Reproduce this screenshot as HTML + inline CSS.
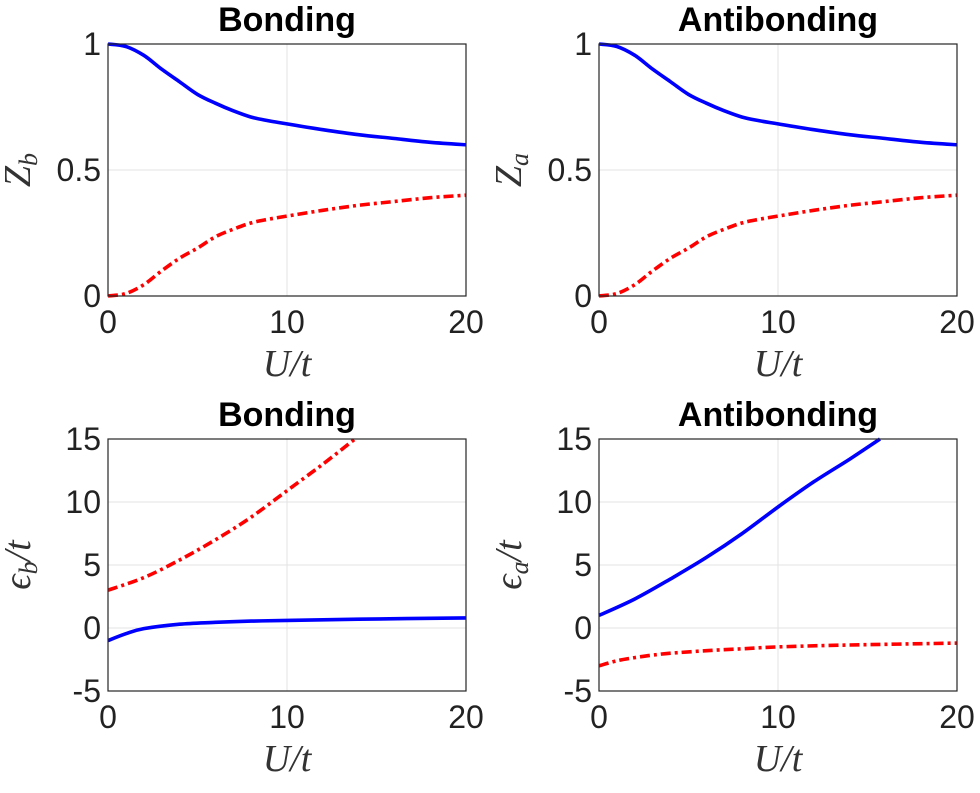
<!DOCTYPE html>
<html><head><meta charset="utf-8"><style>
body{margin:0;background:#fff;width:980px;height:788px;overflow:hidden}
svg text{font-family:"Liberation Sans",sans-serif}
.tick{font-size:32px;fill:#222}
.ttl{font-size:34px;font-weight:bold;fill:#000}
.lbl{font-family:"Liberation Serif",serif !important;font-style:italic;font-size:38px;fill:#333}
</style></head><body>
<svg id="fig" width="980" height="788"></svg>
<script>
// Top row: quasiparticle weights
const uZ = [0,1,2,3,4,5,6,7,8,9,10,12,14,16,18,20];
const zBlue = [1,0.99,0.955,0.9,0.85,0.80,0.765,0.735,0.71,0.695,0.683,0.66,0.64,0.625,0.61,0.60];
const zRed = [0,0.01,0.045,0.10,0.15,0.19,0.235,0.265,0.29,0.305,0.317,0.34,0.36,0.375,0.39,0.40];
// Bottom-left: bonding energies
const uBLred = [0,2,4,6,8,10,12,13.8];
const ebRed = [3,4,5.4,7,8.8,10.9,13,15];
const uBLblue = [0,1,2,4,6,8,10,14,20];
const ebBlue = [-1,-0.45,-0.05,0.3,0.45,0.55,0.6,0.7,0.8];
// Bottom-right: antibonding energies
const uBRblue = [0,2,4,6,8,10,12,14,15.7];
const eaBlue = [1,2.3,3.9,5.6,7.5,9.6,11.6,13.4,15];
const uBRred = [0,1,2,3,4,6,8,10,14,20];
const eaRed = [-3,-2.6,-2.35,-2.15,-2,-1.8,-1.65,-1.5,-1.35,-1.2];
const xTicks = [0,10,20];
const zTicks = [0,0.5,1];
const zTickLabels = ["0","0.5","1"];
const eTicks = [-5,0,5,10,15];
const eTickLabels = ["-5","0","5","10","15"];

const NS="http://www.w3.org/2000/svg";
const svg=document.getElementById('fig');
function mk(tag,attrs,parent){const e=document.createElementNS(NS,tag);for(const k in attrs)e.setAttribute(k,attrs[k]);(parent||svg).appendChild(e);return e;}
function smooth(P){
  let d='M'+P[0][0].toFixed(1)+','+P[0][1].toFixed(1);
  for(let i=0;i<P.length-1;i++){
    const p0=P[Math.max(0,i-1)],p1=P[i],p2=P[i+1],p3=P[Math.min(P.length-1,i+2)];
    const c1=[p1[0]+(p2[0]-p0[0])/6,p1[1]+(p2[1]-p0[1])/6];
    const c2=[p2[0]-(p3[0]-p1[0])/6,p2[1]-(p3[1]-p1[1])/6];
    d+=` C${c1[0].toFixed(1)},${c1[1].toFixed(1)} ${c2[0].toFixed(1)},${c2[1].toFixed(1)} ${p2[0].toFixed(1)},${p2[1].toFixed(1)}`;
  }
  return d;
}

function panel(name,x0,x1,y0,y1,ymin,ymax,yt,ytl,title,ylabelHtml,series){
  const g=mk('g',{});
  
  
  const sx=v=>x0+(v-0)/20*(x1-x0);
  const sy=v=>y1-(v-ymin)/(ymax-ymin)*(y1-y0);
  xTicks.forEach(t=>{const l=mk('line',{x1:sx(t),x2:sx(t),y1:y0,y2:y1,stroke:'#e3e3e3','stroke-width':1},g);
    
    });
  yt.forEach(t=>{const l=mk('line',{x1:x0,x2:x1,y1:sy(t),y2:sy(t),stroke:'#e3e3e3','stroke-width':1},g);
    
    });
  series.forEach(s=>{
    const P=s.x.map((v,i)=>[sx(v),sy(s.y[i])]);
    const p=mk('path',{d:smooth(P),fill:'none',stroke:s.color,'stroke-width':3.6,'stroke-linejoin':'round','stroke-dasharray':s.dash||'none'},g);
    
    
  });
  const r=mk('rect',{x:x0,y:y0,width:x1-x0,height:y1-y0,fill:'none',stroke:'#262626','stroke-width':1.2},g);
  
  
  xTicks.forEach(t=>{const tx=mk('text',{x:sx(t),y:y1+37,'text-anchor':'middle',class:'tick'},g);tx.textContent=String(t);
    
    });
  yt.forEach((t,i)=>{const tx=mk('text',{x:x0-7,y:sy(t)+11,'text-anchor':'end',class:'tick'},g);tx.textContent=ytl[i];
    
    });
  const tt=mk('text',{x:(x0+x1)/2,y:y0-13,'text-anchor':'middle',class:'ttl'},g);tt.textContent=title;
  
  
  const xl=mk('text',{x:(x0+x1)/2,y:y1+80,'text-anchor':'middle',class:'lbl'},g);xl.textContent='U/t';
  
  
  const yl=mk('text',{x:0,y:0,'text-anchor':'middle',class:'lbl',transform:`translate(${x0-78},${(y0+y1)/2}) rotate(-90)`},g);
  yl.innerHTML=ylabelHtml;
  
  
}
const dash='10 4 3 4';
panel('panel-bonding-z',108,466,44,296,0,1,zTicks,zTickLabels,'Bonding','Z<tspan font-size="26" dy="7">b</tspan>',
 [{x:uZ,y:zBlue,color:'#0000ff',name:'z-blue-curve'},{x:uZ,y:zRed,color:'#ff0000',dash:dash,name:'z-red-curve'}]);
panel('panel-antibonding-z',599,957,44,296,0,1,zTicks,zTickLabels,'Antibonding','Z<tspan font-size="26" dy="7">a</tspan>',
 [{x:uZ,y:zBlue,color:'#0000ff',name:'z-blue-curve'},{x:uZ,y:zRed,color:'#ff0000',dash:dash,name:'z-red-curve'}]);
panel('panel-bonding-energy',108,466,439,691,-5,15,eTicks,eTickLabels,'Bonding','ϵ<tspan font-size="26" dy="7">b</tspan><tspan dy="-7">/t</tspan>',
 [{x:uBLblue,y:ebBlue,color:'#0000ff',name:'eb-blue-curve'},{x:uBLred,y:ebRed,color:'#ff0000',dash:dash,name:'eb-red-curve'}]);
panel('panel-antibonding-energy',599,957,439,691,-5,15,eTicks,eTickLabels,'Antibonding','ϵ<tspan font-size="26" dy="7">a</tspan><tspan dy="-7">/t</tspan>',
 [{x:uBRblue,y:eaBlue,color:'#0000ff',name:'ea-blue-curve'},{x:uBRred,y:eaRed,color:'#ff0000',dash:dash,name:'ea-red-curve'}]);
</script>
</body></html>
